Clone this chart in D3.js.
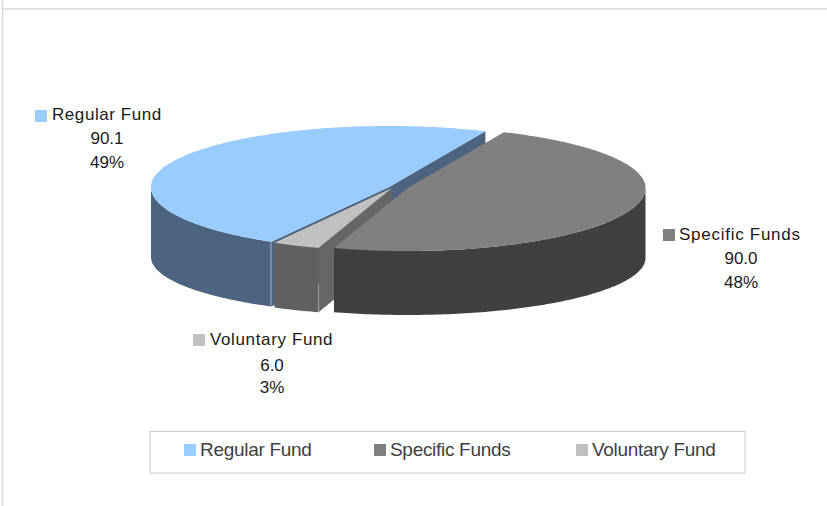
<!DOCTYPE html>
<html><head><meta charset="utf-8">
<script src="https://cdnjs.cloudflare.com/ajax/libs/d3/7.8.5/d3.min.js"></script>
<style>html,body{margin:0;padding:0;background:#fff}svg{display:block}text{font-family:"Liberation Sans",Arial,sans-serif}</style>
</head><body><svg id="c" width="827" height="506"></svg>
<script>
const categories = ["Regular Fund","Specific Funds","Voluntary Fund"];
const values = [90.1,90.0,6.0];
const valueLabels = ["90.1","90.0","6.0"];
const percentLabels = ["49%","48%","3%"];
const topColors = ["#99CCFF","#808080","#C0C0C0"];
const wallColors = ["#4D6480","#404040","#606060"];
const faceColors = ["#4D6480","#404040","#666666"];

const W=827,H=506;
const rx=238, ryBack=61, ryFront=63;
const centers=[[389,187],[407.5,188],[392,188]];
const svg=d3.select("#c");
const deg=d3.scaleLinear().domain([0,360]).range([0,2*Math.PI]);
const pie=d3.pie().value(d=>d).sort(null).startAngle(deg(209.6)).endAngle(deg(569.6));
const arcs=pie(values).map(d=>{
  const off=Math.floor(d.startAngle/(2*Math.PI))*2*Math.PI;
  return {startAngle:d.startAngle-off,endAngle:d.endAngle-off};
});
const depthAt=a=>70-6*Math.abs(Math.cos(a));

function pt(i,a,withDepth){
  const [cx,cy]=centers[i];
  const c=Math.cos(a);
  return [cx+rx*Math.sin(a), cy-c*(c>0?ryBack:ryFront)+(withDepth?depthAt(a):0)];
}
function sweep(i,a0,a1,withDepth){
  const n=Math.max(2,Math.ceil(Math.abs(a1-a0)/deg(1)));
  return d3.range(n+1).map(k=>pt(i,a0+(a1-a0)*k/n,withDepth));
}
const line=d3.line();
const close=p=>line(p)+"Z";

// frame
svg.append("line").attr("x1",2.5).attr("x2",2.5).attr("y1",0).attr("y2",H).attr("stroke","#d9d9d9").attr("stroke-width",1.5);
svg.append("line").attr("x1",2).attr("x2",W).attr("y1",9).attr("y2",9).attr("stroke","#d9d9d9").attr("stroke-width",1.5);

function outerWall(i){
  const d=arcs[i];
  // only the front half of the rim (90deg..270deg) is seen
  const lo=Math.max(d.startAngle,deg(90)), hi=Math.min(d.endAngle,deg(270));
  if(hi<=lo) return;
  const top=sweep(i,lo,hi,false), bot=sweep(i,hi,lo,true);
  svg.append("path").attr("d",close(top.concat(bot))).attr("fill",wallColors[i]);
}
function radialFace(i,a,color){
  const c=centers[i], e=pt(i,a,false), b=pt(i,a,true);
  svg.append("path").attr("d",close([c,e,b,[c[0],c[1]+depthAt(a)]])).attr("fill",color);
}
function topFace(i){
  const d=arcs[i];
  svg.append("path").attr("d",close([centers[i]].concat(sweep(i,d.startAngle,d.endAngle,false)))).attr("fill",topColors[i]);
}

// Regular Fund, back to front
outerWall(0);
radialFace(0,arcs[0].endAngle,faceColors[0]);
radialFace(0,arcs[0].startAngle,faceColors[0]);
topFace(0);
{ const a=arcs[0].startAngle, e=pt(0,a,false), b=pt(0,a,true);
  svg.append("line").attr("x1",e[0]-1).attr("x2",e[0]-1).attr("y1",e[1]+1).attr("y2",b[1]-1).attr("stroke","#7B95B8").attr("stroke-width",1);
}
// Voluntary Fund
radialFace(2,arcs[2].startAngle,faceColors[2]);
outerWall(2);
topFace(2);
{ const a=arcs[2].startAngle, e=pt(2,a,true);
  svg.append("line").attr("x1",e[0]).attr("x2",e[0]).attr("y1",e[1]-28).attr("y2",e[1]).attr("stroke","#a0a0a0").attr("stroke-width",1);
}
// Specific Funds
outerWall(1);
topFace(1);

// data labels
const labelPos=[{sx:35,sy:110,tx:52,cx:107,b:[120,144,168]},
                {sx:663,sy:229,tx:679,cx:741,b:[240,264,288]},
                {sx:193,sy:334,tx:210,cx:272,b:[345,371,393]}];
const labelSpacing=[0.57,0.73,0.63];
categories.forEach((c,i)=>{
  const p=labelPos[i];
  svg.append("rect").attr("x",p.sx).attr("y",p.sy).attr("width",12).attr("height",12).attr("fill",topColors[i]);
  svg.append("text").attr("x",p.tx).attr("y",p.b[0]).attr("font-size",17).attr("letter-spacing",labelSpacing[i]).attr("fill","#1a1a1a").text(c);
  svg.append("text").attr("x",p.cx).attr("y",p.b[1]).attr("text-anchor","middle").attr("font-size",17).attr("fill","#1a1a1a").text(valueLabels[i]);
  svg.append("text").attr("x",p.cx).attr("y",p.b[2]).attr("text-anchor","middle").attr("font-size",17).attr("fill","#1a1a1a").text(percentLabels[i]);
});

// legend
svg.append("rect").attr("x",150).attr("y",431.5).attr("width",595).attr("height",41.5).attr("fill","#fff").attr("stroke","#c8c8c8").attr("stroke-width",1);
const legX=[184,374,576];
categories.forEach((c,i)=>{
  svg.append("rect").attr("x",legX[i]).attr("y",444).attr("width",12).attr("height",12).attr("fill",topColors[i]);
  svg.append("text").attr("x",legX[i]+16).attr("y",456).attr("font-size",19).attr("letter-spacing",-0.3).attr("fill","#404040").text(c);
});
</script></body></html>
